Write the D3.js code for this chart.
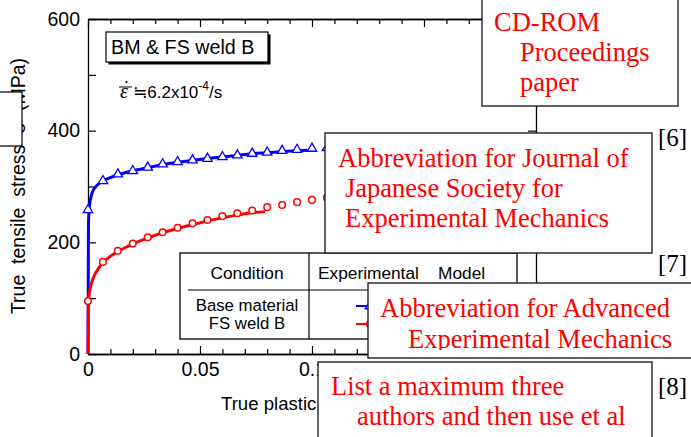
<!DOCTYPE html>
<html><head><meta charset="utf-8">
<script src="https://cdn.jsdelivr.net/npm/d3@7"></script>
<style>
body{margin:0;background:#fff}
svg{display:block}
text{white-space:pre}
</style>
</head><body>
<svg id="chart" width="691" height="437"></svg>
<script>
// ---------- data ----------
const expStrain = [0, 0.00667, 0.01333, 0.02, 0.02667, 0.03333, 0.04, 0.04667, 0.05333, 0.06, 0.06667, 0.07333, 0.08, 0.08667, 0.09333, 0.1, 0.10667];
const baseExpStress = [258, 310, 322, 328, 334, 340, 344, 347, 350, 353, 356, 359, 361, 364, 366, 368, 369];
const weldExpStress = [95, 165, 185, 198, 209, 218, 226, 234, 240, 247, 252, 257, 263, 267, 272, 276, 280];

const baseModelStrain = [0, 0.0002, 0.0005, 0.001, 0.002, 0.004, 0.0067, 0.01, 0.0135, 0.02, 0.027, 0.033, 0.04, 0.047, 0.053, 0.06, 0.067, 0.073, 0.08, 0.087, 0.093, 0.098];
const baseModelStress = [0, 230, 258, 275, 290, 302, 310, 316, 321, 328, 334, 339, 343.5, 347, 350, 353, 356, 358.5, 360.5, 362.5, 364, 365];
const weldModelStrain = [0, 0.0002, 0.001, 0.002, 0.003, 0.005, 0.0067, 0.01, 0.0135, 0.02, 0.027, 0.033, 0.04, 0.047, 0.053, 0.06, 0.067, 0.073, 0.079];
const weldModelStress = [0, 95, 118, 132, 142, 155, 164, 175, 184, 197, 208, 217, 225, 232, 238, 244, 249, 253, 255];

const xTickValues = [0, 0.05, 0.1, 0.15, 0.2];
const xTickLabels = ["0", "0.05", "0.1", "", ""];   // 0.15 and 0.2 are covered in the reference
const yTickValues = [0, 100, 200, 300, 400, 500, 600];
const yTickLabels = ["0", "", "200", "", "400", "", "600"];

const legendConditions = ["Base material", "FS weld B"];
const overlayNotes = [
  ["CD-ROM", "Proceedings", "paper"],
  ["Abbreviation for Journal of", "Japanese Society for", "Experimental Mechanics"],
  ["Abbreviation for Advanced", "Experimental Mechanics"],
  ["List a maximum three", "authors and then use et al"]
];
const refLabels = ["[6]", "[7]", "[8]"];

// ---------- setup ----------
const svg = d3.select("#chart");
const SANS = "'Liberation Sans', Arial, Helvetica, sans-serif";
const SERIF = "'Liberation Serif', 'Times New Roman', Times, serif";
const BLUE = "#0000ff", RED = "#ff0000";

const x = d3.scaleLinear().domain([0, 0.2]).range([88, 536]);
const y = d3.scaleLinear().domain([0, 600]).range([354, 19]);

function styleAxis(g) {
  g.selectAll("path.domain").attr("stroke", "#000").attr("stroke-width", 1.3);
  g.selectAll(".tick line").attr("stroke", "#000").attr("stroke-width", 1.2);
  g.selectAll(".tick text").attr("font-family", SANS).attr("font-size", 19.5).attr("fill", "#000");
}
const minorX = d3.range(0, 21).map(i => i / 100).filter(v => Math.round(v * 100) % 5 !== 0);

// bottom axis
svg.append("g").attr("transform", "translate(0,354)")
  .call(d3.axisBottom(x).tickValues(minorX).tickSizeInner(-5).tickSizeOuter(0).tickFormat(""))
  .call(styleAxis);
svg.append("g").attr("transform", "translate(0,354)")
  .call(d3.axisBottom(x).tickValues(xTickValues).tickSizeInner(-8).tickSizeOuter(0).tickPadding(8)
    .tickFormat((d, i) => xTickLabels[i]))
  .call(styleAxis);
// top axis
svg.append("g").attr("transform", "translate(0,19)")
  .call(d3.axisTop(x).tickValues(minorX).tickSizeInner(-5).tickSizeOuter(0).tickFormat(""))
  .call(styleAxis);
svg.append("g").attr("transform", "translate(0,19)")
  .call(d3.axisTop(x).tickValues(xTickValues).tickSizeInner(-8).tickSizeOuter(0).tickFormat(""))
  .call(styleAxis);
// left axis
svg.append("g").attr("transform", "translate(88,0)")
  .call(d3.axisLeft(y).tickValues(yTickValues).tickSizeInner(-8).tickSizeOuter(0).tickPadding(8)
    .tickFormat((d, i) => yTickLabels[i]))
  .call(styleAxis);
// right axis
svg.append("g").attr("transform", "translate(536,0)")
  .call(d3.axisRight(y).tickValues(yTickValues).tickSizeInner(-8).tickSizeOuter(0).tickFormat(""))
  .call(styleAxis);

// axis titles
svg.append("text").attr("transform", "translate(25,186) rotate(-90)")
  .attr("text-anchor", "middle").attr("font-family", SANS).attr("font-size", 19.5)
  .text("True  tensile  stress  σ  (MPa)");
svg.append("text").attr("x", 221).attr("y", 410)
  .attr("font-family", SANS).attr("font-size", 18.6)
  .text("True plastic strain");

// ---------- model curves ----------
const line = d3.line().x(d => x(d[0])).y(d => y(d[1])).curve(d3.curveMonotoneX);
svg.append("path").datum(d3.zip(baseModelStrain, baseModelStress))
  .attr("d", line).attr("fill", "none").attr("stroke", BLUE).attr("stroke-width", 3);
svg.append("path").datum(d3.zip(weldModelStrain, weldModelStress))
  .attr("d", line).attr("fill", "none").attr("stroke", RED).attr("stroke-width", 3);

// ---------- experimental markers ----------
const tri = d3.symbol().type(d3.symbolTriangle).size(38);
svg.append("g").selectAll("path").data(d3.zip(expStrain, baseExpStress)).join("path")
  .attr("d", tri).attr("transform", d => `translate(${x(d[0])},${y(d[1])})`)
  .attr("fill", "#fff").attr("stroke", BLUE).attr("stroke-width", 1.3);
svg.append("g").selectAll("circle").data(d3.zip(expStrain, weldExpStress)).join("circle")
  .attr("cx", d => x(d[0])).attr("cy", d => y(d[1])).attr("r", 3.3)
  .attr("fill", "#fff").attr("stroke", RED).attr("stroke-width", 1.5);

// ---------- legend label box ----------
svg.append("rect").attr("x", 108.5).attr("y", 34.5).attr("width", 162).attr("height", 30).attr("fill", "#000");
svg.append("rect").attr("x", 106).attr("y", 32).attr("width", 162).attr("height", 30)
  .attr("fill", "#fff").attr("stroke", "#000").attr("stroke-width", 1.2);
svg.append("text").attr("x", 111).attr("y", 54).attr("font-family", SANS).attr("font-size", 19.7)
  .text("BM & FS weld B");

// strain rate
const sr = svg.append("g");
sr.append("text").attr("x", 120).attr("y", 98).attr("font-family", SERIF).attr("font-style", "italic")
  .attr("font-size", 20).text("ε");
sr.append("line").attr("x1", 119).attr("x2", 132).attr("y1", 87).attr("y2", 87).attr("stroke", "#000").attr("stroke-width", 1);
sr.append("circle").attr("cx", 126.5).attr("cy", 82).attr("r", 1.1).attr("fill", "#000");
const srt = sr.append("text").attr("x", 133).attr("y", 98).attr("font-family", SANS).attr("font-size", 17);
srt.append("tspan").attr("font-family", "'DejaVu Sans', sans-serif").attr("font-size", 17).text("≒");
srt.append("tspan").text("6.2x10");
srt.append("tspan").attr("dy", -8).attr("font-size", 12).text("-4");
srt.append("tspan").attr("dy", 8).text("/s");

// ---------- legend table ----------
const lg = svg.append("g");
lg.append("rect").attr("x", 180).attr("y", 253).attr("width", 337).attr("height", 86)
  .attr("fill", "#fff").attr("stroke", "#000").attr("stroke-width", 1.3);
lg.append("line").attr("x1", 188).attr("x2", 510).attr("y1", 290).attr("y2", 290).attr("stroke", "#000").attr("stroke-width", 1.2);
lg.append("line").attr("x1", 309).attr("x2", 309).attr("y1", 253).attr("y2", 339).attr("stroke", "#000").attr("stroke-width", 1.2);
lg.append("text").attr("x", 247).attr("y", 279).attr("text-anchor", "middle").attr("font-family", SANS).attr("font-size", 17.3).text("Condition");
lg.append("text").attr("x", 318).attr("y", 279).attr("font-family", SANS).attr("font-size", 17.3).text("Experimental    Model");
legendConditions.forEach((c, i) => {
  lg.append("text").attr("x", 247).attr("y", 311 + i * 18).attr("text-anchor", "middle")
    .attr("font-family", SANS).attr("font-size", 16.8).text(c);
});
[[BLUE, "tri"], [RED, "circ"]].forEach((s, i) => {
  const yy = 306 + i * 18;
  lg.append("line").attr("x1", 356).attr("x2", 384).attr("y1", yy).attr("y2", yy).attr("stroke", s[0]).attr("stroke-width", 2);
  if (s[1] === "tri") lg.append("path").attr("d", tri).attr("transform", `translate(370,${yy})`).attr("fill", "#fff").attr("stroke", s[0]).attr("stroke-width", 1.4);
  else lg.append("circle").attr("cx", 370).attr("cy", yy).attr("r", 3.3).attr("fill", "#fff").attr("stroke", s[0]).attr("stroke-width", 1.5);
});

// ---------- overlay boxes ----------
// small box at left edge
svg.append("rect").attr("x", -2).attr("y", 92).attr("width", 24).attr("height", 54)
  .attr("fill", "#fff").attr("stroke", "#000").attr("stroke-width", 1.2);

const boxes = [
  {x: 482, y: -2, w: 196, h: 108, tx: [494, 520, 520], ty: [31, 61, 91]},
  {x: 325, y: 133, w: 327, h: 120, tx: [338, 345, 345], ty: [167, 197, 227]},
  {x: 368, y: 283, w: 340, h: 75, tx: [380, 408], ty: [317, 348], clip: 350},
  {x: 318, y: 362, w: 334, h: 90, tx: [331, 357], ty: [395, 425]}
];
const defs = svg.append("defs");
boxes.forEach((b, i) => {
  const g = svg.append("g");
  g.append("rect").attr("x", b.x).attr("y", b.y).attr("width", b.w).attr("height", b.h)
    .attr("fill", "#fff").attr("stroke", "#222").attr("stroke-width", 1.4);
  const tg = g.append("g");
  if (b.clip) {
    defs.append("clipPath").attr("id", "clip" + i).append("rect")
      .attr("x", b.x).attr("y", b.y).attr("width", b.w).attr("height", b.clip - b.y);
    tg.attr("clip-path", `url(#clip${i})`);
  }
  overlayNotes[i].forEach((t, j) => {
    tg.append("text").attr("x", b.tx[j]).attr("y", b.ty[j]).attr("font-family", SERIF)
      .attr("font-size", 26.5).attr("fill", RED).text(t);
  });
});
const refY = [146, 272, 395];
refLabels.forEach((r, i) => {
  svg.append("text").attr("x", 658).attr("y", refY[i]).attr("font-family", SERIF)
    .attr("font-size", 25).attr("fill", "#000").text(r);
});
</script>
</body></html>
